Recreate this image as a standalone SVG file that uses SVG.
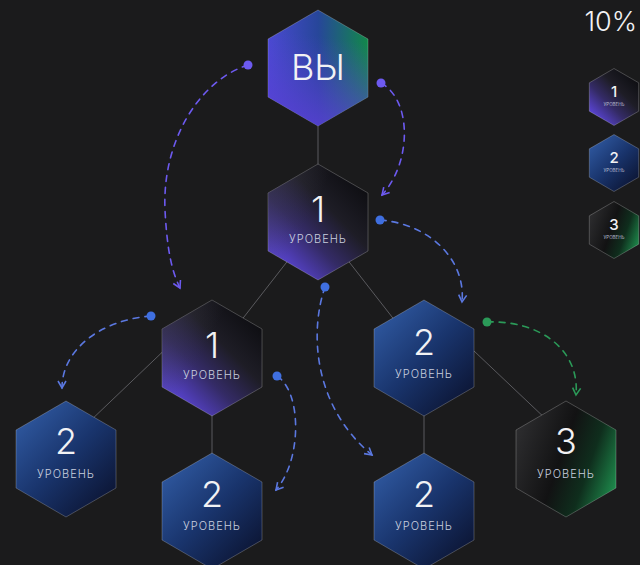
<svg xmlns="http://www.w3.org/2000/svg" width="640" height="565" viewBox="0 0 640 565">
<defs>
<style>
.line{stroke:#5a5a5e;stroke-width:1;fill:none}
.dash{fill:none;stroke-width:1.6;stroke-dasharray:6 6;stroke-linecap:round}
.p{stroke:#6d5af0}
.b{stroke:#5b78e0}
.g{stroke:#2b9a58}
.hex{stroke:rgba(255,255,255,0.22);stroke-width:1;stroke-linejoin:round}
.num{font-family:Inter,"Liberation Sans",sans-serif;font-weight:300;font-size:36px;fill:#f2f2f4;text-anchor:middle}
.lbl{font-family:Inter,"Liberation Sans",sans-serif;font-weight:300;font-size:11px;fill:#c9cfdf;text-anchor:middle;letter-spacing:1px}
.snum{font-family:Inter,"Liberation Sans",sans-serif;font-weight:500;font-size:15px;fill:#f2f2f4;text-anchor:middle}
.slbl{font-family:Inter,"Liberation Sans",sans-serif;font-size:4.5px;fill:#b8bdd0;text-anchor:middle}
</style>
<path id="hx" d="M0,-58 L50,-29 L50,29 L0,58 L-50,29 L-50,-29 Z"/>
<path id="shx" d="M0,-28.5 L24.7,-14.2 L24.7,14.2 L0,28.5 L-24.7,14.2 L-24.7,-14.2 Z"/>
<linearGradient id="gP" x1="0.85" y1="0.1" x2="0.15" y2="0.9">
<stop offset="0" stop-color="#0e0e12"/>
<stop offset="0.35" stop-color="#1e1d26"/>
<stop offset="0.65" stop-color="#342b66"/>
<stop offset="1" stop-color="#5b45d8"/>
</linearGradient>
<linearGradient id="gP2" x1="0" y1="0" x2="1" y2="0.6">
<stop offset="0" stop-color="#3a3a42" stop-opacity="0.6"/>
<stop offset="0.5" stop-color="#3a3a42" stop-opacity="0"/>
</linearGradient>
<linearGradient id="gB" x1="0.1" y1="0.05" x2="0.9" y2="0.95">
<stop offset="0" stop-color="#305aa2"/>
<stop offset="0.5" stop-color="#19346c"/>
<stop offset="1" stop-color="#0b1330"/>
</linearGradient>
<linearGradient id="gG" x1="0" y1="0.3" x2="1" y2="0.7">
<stop offset="0" stop-color="#2c2c2e"/>
<stop offset="0.45" stop-color="#121213"/>
<stop offset="0.72" stop-color="#0f2e1d"/>
<stop offset="1" stop-color="#1d8549"/>
</linearGradient>
<linearGradient id="gY" x1="0" y1="0" x2="1" y2="0">
<stop offset="0" stop-color="#4a4ad2"/>
<stop offset="0.5" stop-color="#27469a"/>
<stop offset="1" stop-color="#12884a"/>
</linearGradient>
<linearGradient id="gY2" x1="0.3" y1="0.2" x2="0.2" y2="1">
<stop offset="0" stop-color="#5b3fd6" stop-opacity="0"/>
<stop offset="1" stop-color="#5b3fd6" stop-opacity="0.85"/>
</linearGradient>
<marker id="mP" viewBox="0 0 10 10" refX="8" refY="5" markerWidth="10" markerHeight="10" markerUnits="userSpaceOnUse" orient="auto"><path d="M1,1 L8,5 L1,9" fill="none" stroke="#6d5af0" stroke-width="1.6"/></marker>
<marker id="mB" viewBox="0 0 10 10" refX="8" refY="5" markerWidth="10" markerHeight="10" markerUnits="userSpaceOnUse" orient="auto"><path d="M1,1 L8,5 L1,9" fill="none" stroke="#5b78e0" stroke-width="1.6"/></marker>
<marker id="mG" viewBox="0 0 10 10" refX="8" refY="5" markerWidth="10" markerHeight="10" markerUnits="userSpaceOnUse" orient="auto"><path d="M1,1 L8,5 L1,9" fill="none" stroke="#2b9a58" stroke-width="1.6"/></marker>
</defs>
<rect width="640" height="565" fill="#1b1b1c"/>
<g id="connectors">
<line class="line" x1="318" y1="68" x2="318" y2="222"/>
<line class="line" x1="318" y1="222" x2="212" y2="358"/>
<line class="line" x1="318" y1="222" x2="424" y2="358"/>
<line class="line" x1="175" y1="340" x2="88" y2="423"/>
<line class="line" x1="212" y1="358" x2="212" y2="511"/>
<line class="line" x1="424" y1="358" x2="424" y2="511"/>
<line class="line" x1="455" y1="333" x2="548" y2="421"/>
<path class="dash p" d="M248,65 C200,80 162,140 165,210 C167,250 172,272 180,288" marker-end="url(#mP)"/>
<circle cx="248" cy="65" r="4.5" fill="#6d5af0"/>
<path class="dash p" d="M381,83 C412,100 412,162 382,195" marker-end="url(#mP)"/>
<circle cx="381" cy="83" r="4.5" fill="#6d5af0"/>
<path class="dash b" d="M380,220 C430,224 466,260 462,302" marker-end="url(#mB)"/>
<circle cx="380" cy="220" r="4.5" fill="#3f6fe0"/>
<path class="dash b" d="M151,316 C100,320 62,350 62,388" marker-end="url(#mB)"/>
<circle cx="151" cy="316" r="4.5" fill="#3f6fe0"/>
<path class="dash b" d="M325,287 C310,330 312,405 372,455" marker-end="url(#mB)"/>
<circle cx="325" cy="287" r="4.5" fill="#3f6fe0"/>
<path class="dash b" d="M277,376 C302,392 302,460 276,490" marker-end="url(#mB)"/>
<circle cx="277" cy="376" r="4.5" fill="#3f6fe0"/>
<path class="dash g" d="M487,322 C540,320 580,350 576,395" marker-end="url(#mG)"/>
<circle cx="487" cy="322" r="4.5" fill="#2b9a58"/>
</g>
<g id="node-you" transform="translate(318,68)">
<use href="#hx" class="hex" fill="url(#gY)"/>
<use href="#hx" fill="url(#gY2)"/>
<text class="num" y="12" font-size="36">ВЫ</text>
</g>
<g id="node-l1-top" transform="translate(318,222)">
<use href="#hx" class="hex" fill="url(#gP)"/>
<use href="#hx" fill="url(#gP2)"/>
<text class="num" y="0">1</text>
<text class="lbl" y="21">УРОВЕНЬ</text>
</g>
<g id="node-l1-left" transform="translate(212,358)">
<use href="#hx" class="hex" fill="url(#gP)"/>
<use href="#hx" fill="url(#gP2)"/>
<text class="num" y="0">1</text>
<text class="lbl" y="21">УРОВЕНЬ</text>
</g>
<g id="node-l2-right" transform="translate(424,358)">
<use href="#hx" class="hex" fill="url(#gB)"/>
<text class="num" y="-3">2</text>
<text class="lbl" y="20">УРОВЕНЬ</text>
</g>
<g id="node-l2-a" transform="translate(66,459)">
<use href="#hx" class="hex" fill="url(#gB)"/>
<text class="num" y="-5">2</text>
<text class="lbl" y="19">УРОВЕНЬ</text>
</g>
<g id="node-l2-b" transform="translate(212,511)">
<use href="#hx" class="hex" fill="url(#gB)"/>
<text class="num" y="-4">2</text>
<text class="lbl" y="19">УРОВЕНЬ</text>
</g>
<g id="node-l2-c" transform="translate(424,511)">
<use href="#hx" class="hex" fill="url(#gB)"/>
<text class="num" y="-4">2</text>
<text class="lbl" y="19">УРОВЕНЬ</text>
</g>
<g id="node-l3" transform="translate(566,459)">
<use href="#hx" class="hex" fill="url(#gG)"/>
<text class="num" y="-5">3</text>
<text class="lbl" y="19">УРОВЕНЬ</text>
</g>
<g id="legend">
<text x="637" y="31" text-anchor="end" font-family="Inter,'Liberation Sans',sans-serif" font-weight="300" font-size="27" fill="#f2f2f4">10%</text>
<g id="legend-1" transform="translate(614,97)">
<use href="#shx" class="hex" fill="url(#gP)"/>
<text class="snum" y="0">1</text>
<text class="slbl" y="9">УРОВЕНЬ</text>
</g>
<g id="legend-2" transform="translate(614,163)">
<use href="#shx" class="hex" fill="url(#gB)"/>
<text class="snum" y="0">2</text>
<text class="slbl" y="9">УРОВЕНЬ</text>
</g>
<g id="legend-3" transform="translate(614,230)">
<use href="#shx" class="hex" fill="url(#gG)"/>
<text class="snum" y="0">3</text>
<text class="slbl" y="9">УРОВЕНЬ</text>
</g>
</g>
</svg>
